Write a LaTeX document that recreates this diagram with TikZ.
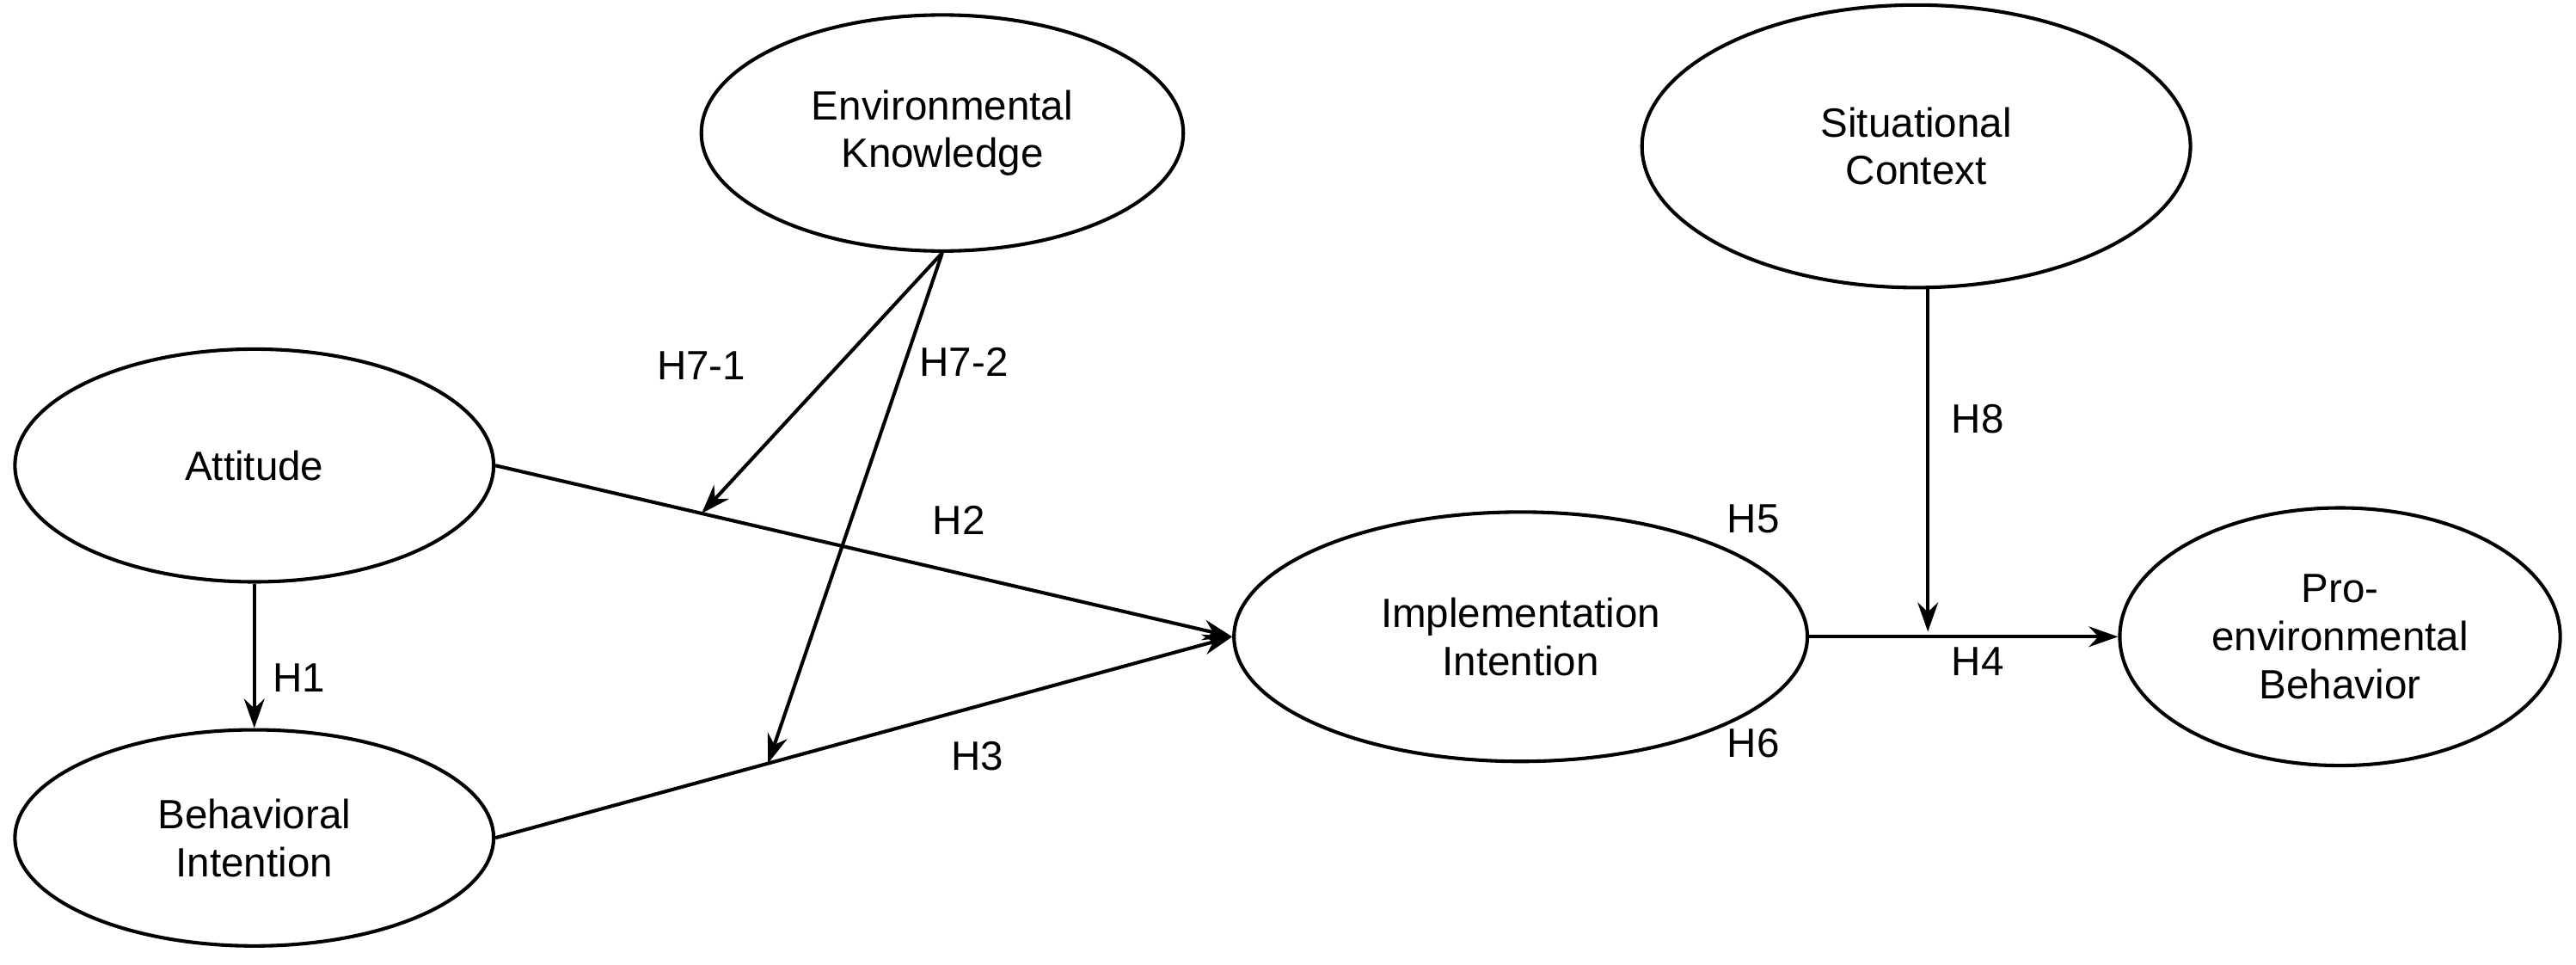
\documentclass[tikz,border=0pt]{standalone}
\usepackage{fontspec}
\setmainfont{Liberation Sans}
\usetikzlibrary{shapes.geometric,arrows.meta}
\tikzset{
  construct/.style={ellipse,draw,semithick,align=center,inner sep=1pt,font=\fontsize{7}{8.2}\selectfont},
  path/.style={semithick,-{Stealth[length=5pt,width=3.5pt]}},
  hyp/.style={font=\fontsize{7}{8.2}\selectfont}
}
\begin{document}
\begin{tikzpicture}
\useasboundingbox (0,0) rectangle (15.5,5.8);

\node[construct,minimum width=2.9cm,minimum height=1.42cm] (ek) at (5.67,5.0) {Environmental\\Knowledge};
\node[construct,minimum width=3.3cm,minimum height=1.7cm] (sc) at (11.53,4.92) {Situational\\Context};
\node[construct,minimum width=2.88cm,minimum height=1.4cm] (att) at (1.53,3.0) {Attitude};
\node[construct,minimum width=2.88cm,minimum height=1.3cm] (bi) at (1.53,0.76) {Behavioral\\Intention};
\node[construct,minimum width=3.45cm,minimum height=1.5cm] (impl) at (9.15,1.97) {Implementation\\Intention};
\node[construct,minimum width=2.65cm,minimum height=1.55cm] (peb) at (14.08,1.97) {Pro-\\environmental\\Behavior};

\draw[path] (att.east) -- (impl.west);
\draw[path] (bi.east) -- (impl.west);
\draw[path] (att.south) -- (bi.north);
\path (att.east) -- coordinate[pos=0.28] (mod1) (impl.west);
\path (bi.east) -- coordinate[pos=0.37] (mod2) (impl.west);
\draw[path] (ek.south) -- (mod1);
\draw[path] (ek.south) -- (mod2);
\draw[path] (impl.east) -- (peb.west);
\coordinate (mod3) at (11.6,2.0);
\draw[path] (sc.south -| mod3) -- (mod3);

\node[hyp] (h1) at (1.80,1.72) {H1};
\node[hyp] (h2) at (5.77,2.67) {H2};
\node[hyp] (h3) at (5.88,1.25) {H3};
\node[hyp] (h4) at (11.90,1.82) {H4};
\node[hyp] (h5) at (10.55,2.68) {H5};
\node[hyp] (h6) at (10.55,1.33) {H6};
\node[hyp] (h71) at (4.22,3.60) {H7-1};
\node[hyp] (h72) at (5.80,3.62) {H7-2};
\node[hyp] (h8) at (11.90,3.28) {H8};
\end{tikzpicture}
\end{document}
